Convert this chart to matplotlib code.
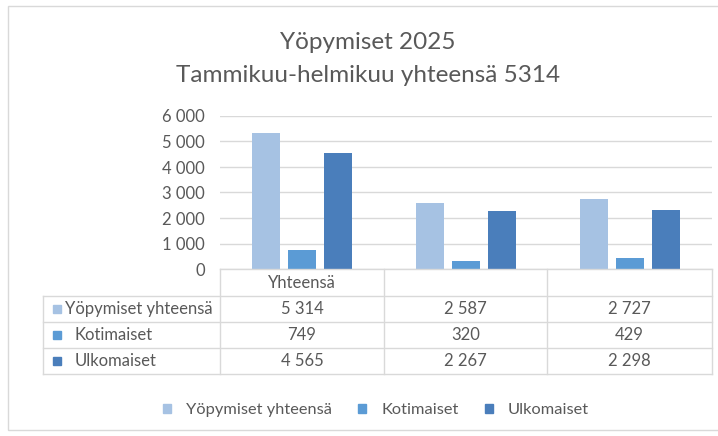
import matplotlib
matplotlib.use("Agg")
import matplotlib.pyplot as plt
from matplotlib.patches import Rectangle
from matplotlib.lines import Line2D
import numpy as np

# Data
categories = ["Yhteensä", "", ""]
series_names = ["Yöpymiset yhteensä", "Kotimaiset", "Ulkomaiset"]
yopymiset = [5314, 2587, 2727]
kotimaiset = [749, 320, 429]
ulkomaiset = [4565, 2267, 2298]
yticks = [0, 1000, 2000, 3000, 4000, 5000, 6000]
title = "Yöpymiset 2025\nTammikuu-helmikuu yhteensä 5314"

colors = ["#a6c2e3", "#5b9bd5", "#4a7ebb"]
text_col = "#595959"
line_col = "#d9d9d9"

plt.rcParams["font.family"] = ["Lato", "DejaVu Sans"]

W, H = 718, 436
fig = plt.figure(figsize=(W / 100, H / 100), dpi=100)


def fx(x):
    return x / W


def fy(y):
    return 1 - y / H


def fmt(v):
    return f"{v:,}".replace(",", " ")


# outer chart border
fig.patches.append(Rectangle((fx(8), fy(430)), fx(720) - fx(8), fy(6) - fy(430),
                             transform=fig.transFigure, fill=False,
                             edgecolor=line_col, linewidth=1))

fig.text(fx(368), fy(59), title, ha="center", va="center", fontsize=17.5,
         color=text_col, linespacing=1.65)

# plot area
left, right, top, bottom = 220, 712, 116, 269
ax = fig.add_axes([fx(left), fy(bottom), fx(right) - fx(left), fy(top) - fy(bottom)])
series = [yopymiset, kotimaiset, ulkomaiset]
x = np.arange(len(categories))
width = 0.171
step = 0.22
for i, vals in enumerate(series):
    ax.bar(x + (i - 1) * step, vals, width=width, color=colors[i], zorder=3)
ax.set_xlim(-0.5, len(categories) - 0.5)
ax.set_ylim(0, 6000)
ax.set_yticks(yticks)
ax.set_yticklabels([fmt(v) for v in yticks])
ax.tick_params(axis="y", length=0, pad=11, labelsize=12, labelcolor=text_col)
ax.set_xticks([])
ax.grid(axis="y", color=line_col, linewidth=1, zorder=0)
for s in ax.spines.values():
    s.set_visible(False)

# data table
col_x = [left, 384, 547, right]
row_y = [269, 296, 322, 348, 374]
tl = 43
fig.add_artist(Line2D([fx(left), fx(right)], [fy(row_y[0])] * 2, color=line_col, lw=1))
for ry in row_y[1:]:
    fig.add_artist(Line2D([fx(tl), fx(right)], [fy(ry)] * 2, color=line_col, lw=1))
fig.add_artist(Line2D([fx(tl)] * 2, [fy(row_y[1]), fy(row_y[-1])], color=line_col, lw=1))
for cx in col_x:
    fig.add_artist(Line2D([fx(cx)] * 2, [fy(row_y[0]), fy(row_y[-1])], color=line_col, lw=1))

for j, cat in enumerate(categories):
    cx = (col_x[j] + col_x[j + 1]) / 2
    fig.text(fx(cx), fy((row_y[0] + row_y[1]) / 2), cat, ha="center", va="center",
             fontsize=12, color=text_col)

for i, name in enumerate(series_names):
    cy = (row_y[i + 1] + row_y[i + 2]) / 2
    tx = 65 if i == 0 else 75
    fig.patches.append(Rectangle((fx(53), fy(cy + 4)), fx(8), fy(0) - fy(8),
                                 transform=fig.transFigure, color=colors[i]))
    fig.text(fx(tx), fy(cy), name, ha="left", va="center", fontsize=12, color=text_col)
    for j, v in enumerate(series[i]):
        cx = (col_x[j] + col_x[j + 1]) / 2
        fig.text(fx(cx), fy(cy), fmt(v), ha="center", va="center",
                 fontsize=12, color=text_col)

# legend
handles = [Rectangle((0, 0), 1, 1, color=c) for c in colors]
fig.legend(handles, series_names, loc="center", bbox_to_anchor=(fx(376), fy(410)),
           ncol=3, frameon=False, fontsize=11.8, labelcolor=text_col,
           handlelength=0.5, handleheight=0.5, handletextpad=0.9, columnspacing=1.6)

fig.savefig("out.png", dpi=100, facecolor="white")
